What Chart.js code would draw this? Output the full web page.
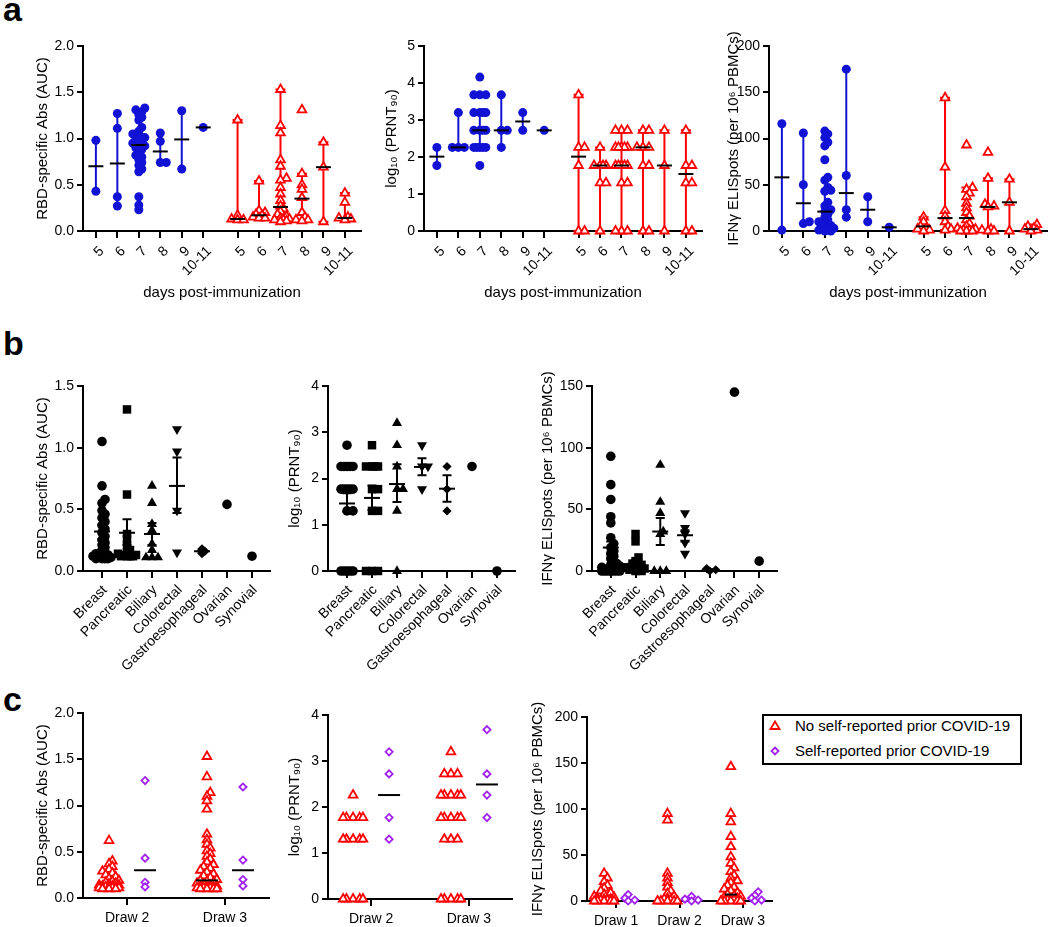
<!DOCTYPE html>
<html><head><meta charset="utf-8">
<script src="https://cdn.jsdelivr.net/npm/chart.js@4.4.1/dist/chart.umd.min.js"></script>
<style>
html,body{margin:0;padding:0;background:#fff;}
body{width:1050px;height:927px;position:relative;overflow:hidden;font-family:'Liberation Sans',Arial,sans-serif;}
canvas{position:absolute;}
.plab{position:absolute;font-weight:bold;font-size:34px;line-height:34px;left:3px;}
#legend{position:absolute;left:762px;top:714px;width:260px;height:51px;border:2px solid #000;box-sizing:border-box;font-size:15px;}
#legend .row{position:absolute;left:0;height:18px;line-height:18px;white-space:nowrap;}
#legend svg{position:absolute;left:4px;top:3px;}
#legend span{position:absolute;left:31px;top:0;}
</style></head><body>
<div class="plab" style="top:-8px">a</div>
<div class="plab" style="top:326px">b</div>
<div class="plab" style="top:682px">c</div>
<div id="legend">
  <div class="row" style="top:1px"><svg width="14" height="12" viewBox="-7 -6 14 12"><polygon points="0,-4.5 4.5,3 -4.5,3" fill="#fff" stroke="#ff0000" stroke-width="1.8"/></svg><span>No self-reported prior COVID-19</span></div>
  <div class="row" style="top:26px"><svg width="14" height="12" viewBox="-7 -6 14 12"><polygon points="0,-3.5 3.5,0 0,3.5 -3.5,0" fill="#fff" stroke="#a020f0" stroke-width="1.8"/></svg><span>Self-reported prior COVID-19</span></div>
</div>
<script>
// ---------------- DATA ----------------
// Panel a: days post-immunization (blue = group 1, red = group 2)
const aDays = ['5', '6', '7', '8', '9', '10-11'];

const aRbdBlue = [
  [0.98, 0.43],
  [1.27, 1.11, 0.37, 0.27],
  [1.33, 1.31, 1.29, 1.26, 1.23, 1.20, 1.12, 1.08, 1.05, 1.03, 1.01, 0.99, 0.97, 0.95, 0.94, 0.92, 0.90, 0.88, 0.85, 0.82, 0.80, 0.77, 0.74, 0.71, 0.67, 0.64, 0.37, 0.28, 0.23],
  [1.06, 0.97, 0.74, 0.74],
  [1.30, 0.67],
  [1.12]
];
const aRbdBlueMed = [0.70, 0.73, 0.93, 0.86, 0.99, 1.12];
const aRbdBlueLo  = [0.43, 0.27, 0.80, 0.74, 0.67, null];
const aRbdBlueHi  = [0.98, 1.27, 1.05, 1.06, 1.30, null];
const aRbdRed = [
  [1.20, 0.17, 0.13, 0.12, 0.12],
  [0.54, 0.22, 0.20, 0.18, 0.17, 0.15, 0.14, 0.14],
  [1.53, 1.14, 1.06, 0.77, 0.70, 0.57, 0.55, 0.47, 0.40, 0.33, 0.27, 0.24, 0.21, 0.18, 0.16, 0.14, 0.13, 0.12, 0.12, 0.11, 0.10],
  [1.31, 0.62, 0.50, 0.45, 0.36, 0.20, 0.15, 0.12, 0.12, 0.11],
  [0.96, 0.69, 0.10],
  [0.41, 0.31, 0.15, 0.14, 0.13, 0.12]
];
const aRbdRedMed = [0.13, 0.17, 0.26, 0.35, 0.69, 0.14];
const aRbdRedLo  = [0.12, 0.14, 0.11, 0.11, 0.10, 0.12];
const aRbdRedHi  = [1.20, 0.54, 1.53, 0.62, 0.96, 0.41];

const aPrntBlue = [
  [2.26, 1.77],
  [3.20, 2.26, 2.26, 2.26],
  [4.16, 3.68, 3.68, 3.68, 3.20, 3.20, 3.20, 3.20, 2.72, 2.72, 2.72, 2.72, 2.26, 2.26, 2.26, 2.26, 2.26, 1.77],
  [3.68, 2.72, 2.72, 2.26],
  [3.20, 2.72],
  [2.72]
];
const aPrntBlueMed = [2.01, 2.26, 2.72, 2.72, 2.96, 2.72];
const aPrntBlueLo  = [1.77, 2.26, 2.26, 2.26, 2.72, null];
const aPrntBlueHi  = [2.26, 3.20, 3.15, 3.68, 3.20, null];
const aPrntRed = [
  [3.68, 2.26, 2.26, 1.77, 0, 0],
  [2.26, 1.77, 1.77, 1.77, 1.77, 1.30, 1.30, 0],
  [2.72, 2.72, 2.72, 2.26, 2.26, 2.26, 2.26, 2.26, 1.77, 1.77, 1.77, 1.77, 1.77, 1.30, 1.30, 0, 0, 0],
  [2.72, 2.72, 2.26, 2.26, 2.26, 1.77, 1.77, 0, 0],
  [2.72, 1.77, 0],
  [2.72, 1.77, 1.77, 1.30, 1.30, 0, 0]
];
const aPrntRedMed = [2.01, 1.77, 1.77, 2.26, 1.77, 1.54];
const aPrntRedLo  = [0, 0, 0, 0, 0, 0];
const aPrntRedHi  = [3.68, 2.26, 2.72, 2.72, 2.72, 2.72];

const aIfnBlue = [
  [116, 1],
  [106, 50, 10, 8],
  [108, 105, 101, 96, 92, 77, 58, 55, 47, 44, 43, 31, 27, 23, 21, 18, 15, 12, 10, 8, 6, 4, 3, 2, 1, 0, 0],
  [175, 60, 23, 15],
  [37, 10],
  [4]
];
const aIfnBlueMed = [58, 30, 21, 41, 23, 4];
const aIfnBlueLo  = [1, 8, 5, 15, 10, null];
const aIfnBlueHi  = [116, 106, 44, 175, 37, null];
const aIfnRed = [
  [15, 10, 5, 3, 2, 1, 0],
  [144, 69, 22, 16, 10, 5, 2, 1],
  [93, 47, 45, 41, 37, 30, 25, 20, 16, 12, 8, 5, 3, 2, 1, 1, 0, 0, 0],
  [85, 57, 29, 27, 26, 2, 1, 0, 0],
  [56, 31, 0],
  [7, 5, 3, 2, 1, 0]
];
const aIfnRedMed = [5, 14, 14, 26, 31, 2];
const aIfnRedLo  = [0, 1, 0, 0, 0, 0];
const aIfnRedHi  = [15, 144, 47, 57, 56, 7];

// Panel b: cancer type (mean ± SEM)
const bTypes = ['Breast', 'Pancreatic', 'Biliary', 'Colorectal', 'Gastroesophageal', 'Ovarian', 'Synovial'];

const bRbd = [
  [1.05, 0.69, 0.58, 0.55, 0.49, 0.46, 0.43, 0.40, 0.37, 0.34, 0.31, 0.28, 0.25, 0.23, 0.21, 0.19, 0.17, 0.15, 0.14, 0.13, 0.12, 0.12, 0.11, 0.11, 0.10, 0.10, 0.10, 0.10],
  [1.31, 0.62, 0.30, 0.26, 0.21, 0.17, 0.15, 0.14, 0.13, 0.13, 0.12, 0.12, 0.12, 0.12],
  [0.69, 0.55, 0.38, 0.33, 0.22, 0.17, 0.11, 0.11, 0.11],
  [1.15, 0.97, 0.49, 0.15],
  [0.18, 0.16, 0.14],
  [0.54],
  [0.12]
];
const bRbdMean = [0.32, 0.31, 0.30, 0.69, 0.16, null, null];
const bRbdLo   = [0.26, 0.21, 0.21, 0.47, 0.15, null, null];
const bRbdHi   = [0.38, 0.42, 0.39, 0.92, 0.17, null, null];

const bPrnt = [
  [2.72, 2.26, 2.26, 2.26, 2.26, 2.26, 1.77, 1.77, 1.77, 1.77, 1.77, 1.30, 1.30, 0, 0, 0, 0, 0],
  [2.72, 2.26, 2.26, 2.26, 2.26, 1.77, 1.77, 1.30, 1.30, 0, 0, 0],
  [3.20, 2.72, 2.26, 1.77, 1.77, 1.30, 0],
  [2.72, 2.26, 2.26, 1.77],
  [2.26, 1.77, 1.30],
  [2.26],
  [0]
];
const bPrntMean = [1.46, 1.58, 1.88, 2.25, 1.78, null, null];
const bPrntLo   = [1.28, 1.32, 1.49, 2.07, 1.50, null, null];
const bPrntHi   = [1.68, 1.85, 2.31, 2.44, 2.07, null, null];

const bIfn = [
  [93, 70, 58, 44, 39, 27, 22, 19, 16, 14, 12, 10, 8, 6, 5, 4, 3, 2, 2, 1, 1, 0, 0, 0, 0, 0, 0, 0],
  [30, 24, 11, 8, 6, 5, 4, 3, 2, 2, 1, 1, 0, 0],
  [86, 56, 47, 32, 30, 0, 0, 0],
  [47, 35, 30, 23, 14],
  [2, 1, 0],
  [145],
  [8]
];
const bIfnMean = [19, 6, 32, 29, 1, null, null];
const bIfnLo   = [14, 4, 21, 24, 0.5, null, null];
const bIfnHi   = [24, 9, 43, 33, 1.5, null, null];

// Panel c: draws, prior COVID-19 status
const cDraws2 = ['Draw 2', 'Draw 3'];
const cDraws3 = ['Draw 1', 'Draw 2', 'Draw 3'];
const cSeries = ['No self-reported prior COVID-19', 'Self-reported prior COVID-19'];

const cRbdNo = [
  [0.62, 0.40, 0.37, 0.34, 0.31, 0.29, 0.27, 0.25, 0.23, 0.21, 0.19, 0.18, 0.17, 0.16, 0.15, 0.14, 0.14, 0.13, 0.13, 0.12, 0.12, 0.12, 0.11, 0.11, 0.11, 0.10, 0.10, 0.10],
  [1.53, 1.31, 1.14, 1.10, 1.05, 0.96, 0.69, 0.63, 0.58, 0.54, 0.51, 0.48, 0.45, 0.42, 0.39, 0.36, 0.34, 0.32, 0.30, 0.28, 0.26, 0.24, 0.22, 0.20, 0.19, 0.18, 0.17, 0.16, 0.15, 0.14, 0.13, 0.13, 0.12, 0.12, 0.11, 0.11, 0.11, 0.10, 0.10, 0.10, 0.10]
];
const cRbdPrior = [[1.27, 0.43, 0.17, 0.12], [1.20, 0.41, 0.20, 0.13]];
const cRbdNoMed = [null, 0.19];
const cRbdPriorMed = [0.30, 0.30];

const cPrntNo = [
  [2.26, 1.77, 1.77, 1.77, 1.77, 1.77, 1.30, 1.30, 1.30, 1.30, 1.30, 0, 0, 0, 0, 0],
  [3.20, 2.72, 2.72, 2.72, 2.26, 2.26, 2.26, 2.26, 2.26, 1.77, 1.77, 1.77, 1.77, 1.77, 1.30, 1.30, 1.30, 0, 0, 0, 0, 0]
];
const cPrntPrior = [[3.20, 2.72, 1.77, 1.30], [3.68, 2.72, 2.26, 1.77]];
const cPrntNoMed = [null, null];
const cPrntPriorMed = [2.26, 2.49];

const cIfnNo = [
  [30, 25, 21, 17, 14, 11, 9, 7, 5, 4, 3, 2, 2, 1, 1, 0, 0, 0, 0, 0],
  [95, 88, 30, 25, 20, 15, 11, 8, 5, 3, 2, 1, 0, 0, 0, 0, 0],
  [146, 95, 86, 70, 59, 48, 41, 36, 32, 28, 25, 22, 20, 17, 15, 13, 11, 9, 7, 6, 5, 4, 3, 2, 1, 1, 0, 0, 0, 0, 0]
];
const cIfnPrior = [[7, 3, 1, 0], [5, 2, 1, 0], [10, 6, 3, 1, 0]];
const cIfnNoMed = [null, null, 7];
const cIfnPriorMed = [null, null, null];

// ---------------- RENDERING ----------------
const BLUE = '#1212d4', RED = '#ff0000', PURPLE = '#a020f0', BLACK = '#000000';
const TICK_FONT = {size: 14};
const TITLE_FONT = {size: 15};
Chart.defaults.font.family = "'Liberation Sans', Arial, Helvetica, sans-serif";
Chart.defaults.font.size = 15;
Chart.defaults.color = '#000';

const barsPlugin = {
  id: 'bars',
  beforeDatasetsDraw(chart, args, opts) {
    const {ctx} = chart, xs = chart.scales.x, ys = chart.scales.y;
    ctx.save();
    (opts.items || []).forEach(it => {
      if (it.lo == null || it.hi == null) return;
      const px = xs.getPixelForValue(it.x);
      const y1 = ys.getPixelForValue(it.lo), y2 = ys.getPixelForValue(it.hi);
      ctx.strokeStyle = it.color; ctx.lineWidth = 2;
      ctx.beginPath();
      ctx.moveTo(px, y1); ctx.lineTo(px, y2);
      ctx.moveTo(px - it.cap / 2, y1); ctx.lineTo(px + it.cap / 2, y1);
      ctx.moveTo(px - it.cap / 2, y2); ctx.lineTo(px + it.cap / 2, y2);
      ctx.stroke();
    });
    ctx.restore();
  },
  afterDatasetsDraw(chart, args, opts) {
    const {ctx} = chart, xs = chart.scales.x, ys = chart.scales.y;
    ctx.save();
    (opts.items || []).forEach(it => {
      if (it.mid == null) return;
      const px = xs.getPixelForValue(it.x), py = ys.getPixelForValue(it.mid);
      ctx.strokeStyle = BLACK; ctx.lineWidth = 2;
      ctx.beginPath();
      ctx.moveTo(px - it.mw / 2, py); ctx.lineTo(px + it.mw / 2, py);
      ctx.stroke();
    });
    ctx.restore();
  }
};

function pts(groups, positions, off) {
  const out = [];
  groups.forEach((vals, i) => vals.forEach(v => out.push({x: positions[i] + off, y: v, g: positions[i] + off})));
  return out;
}

// spread overlapping points sideways (layout only, values unchanged)
function swarm(chart, o) {
  const xs = chart.scales.x, ys = chart.scales.y;
  chart.data.datasets.forEach(ds => {
    const groups = new Map();
    ds.data.forEach(p => { if (!groups.has(p.g)) groups.set(p.g, []); groups.get(p.g).push(p); });
    groups.forEach((arr, g) => {
      const cx = xs.getPixelForValue(g);
      const placed = [];
      arr.slice().sort((a, b) => a.y - b.y).forEach(p => {
        const py = ys.getPixelForValue(p.y);
        let bestOff = 0, bestD = -1;
        for (let k = 0; k <= 2 * o.n; k++) {
          const off = k === 0 ? 0 : (k % 2 ? 1 : -1) * Math.ceil(k / 2) * o.step;
          let md = Infinity;
          placed.forEach(q => { const d = Math.hypot(q.x - cx - off, q.y - py); if (d < md) md = d; });
          if (md >= o.dist) { bestOff = off; bestD = md; break; }
          if (md > bestD) { bestD = md; bestOff = off; }
        }
        placed.push({x: cx + bestOff, y: py});
        p.x = xs.getValueForPixel(cx + bestOff);
      });
    });
  });
}

const yGrid = {display: true, drawOnChartArea: false, drawTicks: true, tickLength: 6, color: '#000', lineWidth: 2};
const xGrid = {display: true, drawOnChartArea: false, drawTicks: true, tickLength: 7, color: '#000', lineWidth: 2};
const axisBorder = {display: true, color: '#000', width: 2};

function makeChart(geo, cfg) {
  const cv = document.createElement('canvas');
  const W = geo.w + 95, H = geo.h + 25 + geo.xh;
  cv.width = W; cv.height = H;
  cv.style.left = (geo.l - 80) + 'px'; cv.style.top = (geo.t - 25) + 'px';
  cv.style.width = W + 'px'; cv.style.height = H + 'px';
  document.body.appendChild(cv);
  const chart = new Chart(cv, {
    type: 'scatter',
    data: {datasets: cfg.datasets},
    options: {
      responsive: false, animation: false, devicePixelRatio: 1,
      layout: {padding: {left: 0, top: 25, right: 15, bottom: 0}},
      plugins: {legend: {display: false}, tooltip: {enabled: false}, bars: {items: cfg.items}},
      events: [],
      scales: {
        x: {
          type: 'linear', min: cfg.xmin, max: cfg.xmax,
          afterBuildTicks: s => { s.ticks = cfg.xpos.map(v => ({value: v})); },
          afterFit: s => { s.height = geo.xh; },
          ticks: {autoSkip: false, minRotation: cfg.rot, maxRotation: cfg.rot, padding: cfg.tpad, labelOffset: cfg.loff,
                  callback: (v, i) => cfg.xlabels[i], font: TICK_FONT},
          grid: xGrid, border: axisBorder,
          title: cfg.xtitle ? {display: true, text: cfg.xtitle, padding: {top: 0, bottom: 9}, font: TITLE_FONT} : {display: false}
        },
        y: {
          type: 'linear', min: 0, max: cfg.ymax,
          afterFit: s => { s.width = 80; },
          ticks: {stepSize: cfg.ystep, padding: 3, callback: cfg.yfmt, font: TICK_FONT},
          grid: yGrid, border: axisBorder,
          title: {display: true, text: cfg.ytitle, padding: {top: cfg.ytp, bottom: 0}, font: TITLE_FONT}
        }
      }
    },
    plugins: [barsPlugin]
  });
  swarm(chart, cfg.swarm);
  chart.update('none');
  return chart;
}

const fmt1 = v => v.toFixed(1);
const fmt0 = v => String(v);

const blueDot = {pointStyle: 'circle', pointRadius: 4.5, pointBackgroundColor: BLUE, pointBorderColor: BLUE, pointBorderWidth: 0, clip: false};
const redTri  = {pointStyle: 'triangle', pointRadius: 5, pointBackgroundColor: '#fff', pointBorderColor: RED, pointBorderWidth: 1.8, clip: false};
const purpleDia = {pointStyle: 'rectRot', pointRadius: 3.6, pointBackgroundColor: '#fff', pointBorderColor: PURPLE, pointBorderWidth: 1.8, clip: false};

// ---- Panel a ----
const aBluePos = [0, 1, 2, 3, 4, 5];
const aRedPos = [6.6, 7.6, 8.6, 9.6, 10.6, 11.6];
const aAllPos = aBluePos.concat(aRedPos);
const aAllLabels = aDays.concat(aDays);

function aItems(bMed, bLo, bHi, rMed, rLo, rHi) {
  const items = [];
  aBluePos.forEach((p, i) => items.push({x: p, mid: bMed[i], lo: bLo[i], hi: bHi[i], color: BLUE, cap: 8, mw: 15}));
  aRedPos.forEach((p, i) => items.push({x: p, mid: rMed[i], lo: rLo[i], hi: rHi[i], color: RED, cap: 10, mw: 15}));
  return items;
}
function aCfg(blue, red, items, ymax, ystep, yfmt, ytitle, ytp) {
  return {
    datasets: [
      Object.assign({label: 'blue', data: pts(blue, aBluePos, 0)}, blueDot),
      Object.assign({label: 'red', data: pts(red, aRedPos, 0)}, redTri)
    ],
    items, xmin: -0.6, xmax: 12.35, xpos: aAllPos, xlabels: aAllLabels, rot: 45, tpad: 5, loff: 6,
    xtitle: 'days post-immunization', ymax, ystep, yfmt, ytitle, ytp,
    swarm: {step: 3, dist: 3.8, n: 3}
  };
}
makeChart({l: 83, t: 46, w: 278, h: 185, xh: 80},
  aCfg(aRbdBlue, aRbdRed, aItems(aRbdBlueMed, aRbdBlueLo, aRbdBlueHi, aRbdRedMed, aRbdRedLo, aRbdRedHi), 2, 0.5, fmt1, 'RBD-specific Abs (AUC)', 31));
makeChart({l: 424, t: 46, w: 278, h: 185, xh: 80},
  aCfg(aPrntBlue, aPrntRed, aItems(aPrntBlueMed, aPrntBlueLo, aPrntBlueHi, aPrntRedMed, aPrntRedLo, aPrntRedHi), 5, 1, fmt0, 'log\u2081\u2080 (PRNT\u2089\u2080)', 39));
makeChart({l: 769, t: 46, w: 278, h: 185, xh: 80},
  aCfg(aIfnBlue, aIfnRed, aItems(aIfnBlueMed, aIfnBlueLo, aIfnBlueHi, aIfnRedMed, aIfnRedLo, aIfnRedHi), 200, 50, fmt0, 'IFN\u03b3 ELISpots (per 10\u2076 PBMCs)', 36));

// ---- Panel b ----
const bPos = [0, 1, 2, 3, 4, 5, 6];
const bStyles = [
  {pointStyle: 'circle', pointRadius: 4.8, pointRotation: 0},
  {pointStyle: 'rect', pointRadius: 6, pointRotation: 0},
  {pointStyle: 'triangle', pointRadius: 5.8, pointRotation: 0},
  {pointStyle: 'triangle', pointRadius: 5.8, pointRotation: 180},
  {pointStyle: 'rectRot', pointRadius: 4.6, pointRotation: 0},
  {pointStyle: 'circle', pointRadius: 4.8, pointRotation: 0},
  {pointStyle: 'circle', pointRadius: 4.8, pointRotation: 0}
];
function bCfg(groups, mean, lo, hi, ymax, ystep, yfmt, ytitle, ytp) {
  return {
    datasets: groups.map((vals, i) => Object.assign({label: bTypes[i], data: pts([vals], [bPos[i]], 0),
      pointBackgroundColor: BLACK, pointBorderColor: BLACK, pointBorderWidth: 0, clip: false}, bStyles[i])),
    items: bPos.map((p, i) => ({x: p, mid: mean[i], lo: lo[i], hi: hi[i], color: BLACK, cap: 9, mw: 16})),
    xmin: -0.76, xmax: 6.72, xpos: bPos, xlabels: bTypes, rot: 45, tpad: 4, loff: 3, xtitle: null,
    ymax, ystep, yfmt, ytitle, ytp, swarm: {step: 3, dist: 3.8, n: 3}
  };
}
makeChart({l: 83, t: 386, w: 187, h: 185, xh: 110},
  bCfg(bRbd, bRbdMean, bRbdLo, bRbdHi, 1.5, 0.5, fmt1, 'RBD-specific Abs (AUC)', 31));
makeChart({l: 328, t: 386, w: 187, h: 185, xh: 110},
  bCfg(bPrnt, bPrntMean, bPrntLo, bPrntHi, 4, 1, fmt0, 'log\u2081\u2080 (PRNT\u2089\u2080)', 38));
makeChart({l: 592, t: 386, w: 185, h: 185, xh: 110},
  bCfg(bIfn, bIfnMean, bIfnLo, bIfnHi, 150, 50, fmt0, 'IFN\u03b3 ELISpots (per 10\u2076 PBMCs)', 27));

// ---- Panel c ----
function cCfg(no, prior, noMed, priorMed, pos, labels, off, xmin, xmax, mw, ymax, ystep, yfmt, ytitle, ytp) {
  const items = [];
  pos.forEach((p, i) => {
    items.push({x: p - off, mid: noMed[i], color: RED, cap: 0, mw});
    items.push({x: p + off, mid: priorMed[i], color: PURPLE, cap: 0, mw});
  });
  return {
    datasets: [
      Object.assign({label: cSeries[0], data: pts(no, pos, -off)}, redTri),
      Object.assign({label: cSeries[1], data: pts(prior, pos, off)}, purpleDia)
    ],
    items, xmin, xmax, xpos: pos, xlabels: labels, rot: 0, tpad: 5, loff: 0, xtitle: null,
    ymax, ystep, yfmt, ytitle, ytp, swarm: {step: 3.3, dist: 4, n: 3}
  };
}
makeChart({l: 83, t: 713, w: 186, h: 185, xh: 30},
  cCfg(cRbdNo, cRbdPrior, cRbdNoMed, cRbdPriorMed, [1, 2], cDraws2, 0.184, 0.55, 2.45, 22, 2, 0.5, fmt1, 'RBD-specific Abs (AUC)', 31));
makeChart({l: 328, t: 715, w: 184, h: 184, xh: 30},
  cCfg(cPrntNo, cPrntPrior, cPrntNoMed, cPrntPriorMed, [1, 2], cDraws2, 0.184, 0.56, 2.44, 22, 4, 1, fmt0, 'log\u2081\u2080 (PRNT\u2089\u2080)', 38));
makeChart({l: 587, t: 717, w: 185, h: 184, xh: 30},
  cCfg(cIfnNo, cIfnPrior, cIfnNoMed, cIfnPriorMed, [1, 2, 3], cDraws3, 0.19, 0.54, 3.46, 12, 200, 50, fmt0, 'IFN\u03b3 ELISpots (per 10\u2076 PBMCs)', 22));
</script>
</body></html>
